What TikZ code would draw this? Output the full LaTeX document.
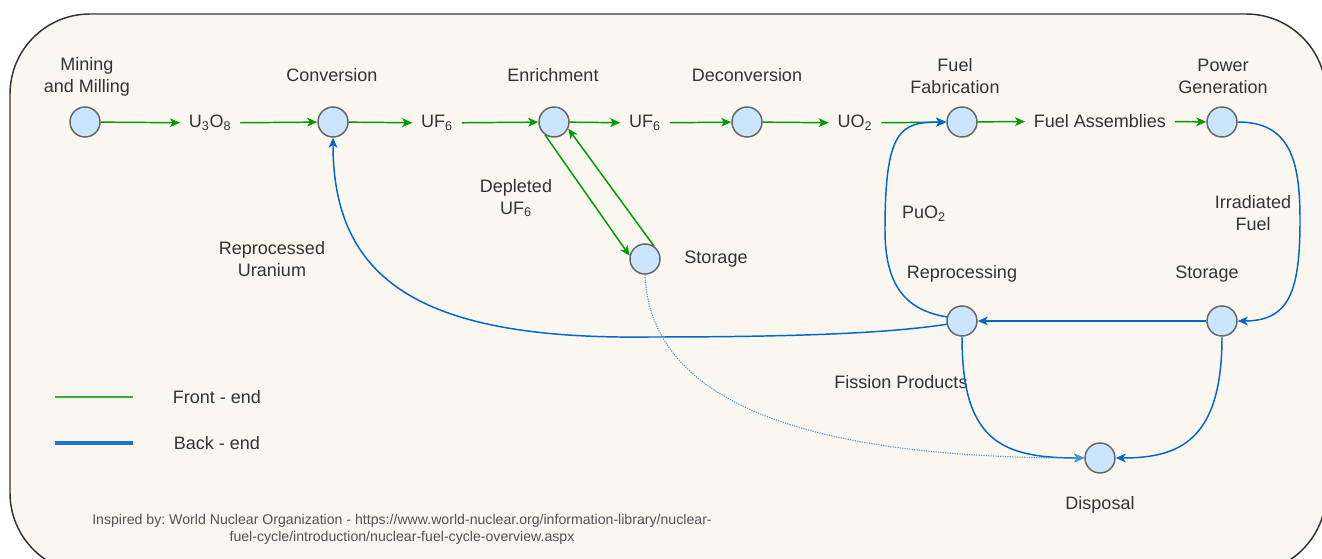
\documentclass[tikz,border=0pt]{standalone}
\usepackage{fontspec}
\setmainfont{Liberation Sans}
\usetikzlibrary{arrows.meta}
\frenchspacing

\definecolor{panelbg}{HTML}{F9F7EF}
\definecolor{panelline}{HTML}{333333}
\definecolor{nodefill}{HTML}{CCE5FF}
\definecolor{nodeline}{HTML}{666666}
\definecolor{frontc}{HTML}{009900}
\definecolor{backc}{HTML}{0066CC}
\definecolor{dotc}{HTML}{4D94DB}
\definecolor{txt}{HTML}{333333}
\definecolor{legfront}{HTML}{33B033}
\definecolor{legback}{HTML}{1A75D1}

\begin{document}
\begin{tikzpicture}[x=0.75pt, y=-0.75pt,
  every node/.style={text=txt, font=\fontsize{13.5}{16.5}\selectfont},
  stage/.style={circle, draw=nodeline, fill=nodefill, line width=1.1pt,
    minimum size=22.5pt, inner sep=0pt},
  lbl/.style={align=center, inner sep=0pt},
  prod/.style={inner xsep=6.5pt, inner ysep=2pt},
  tip/.style={-{Stealth[length=7.5pt, width=6.5pt, inset=2pt]}},
  front/.style={tip, draw=frontc, line width=1.1pt},
  back/.style={tip, draw=backc, line width=1.1pt},
  waste/.style={tip, draw=dotc, line width=0.8pt, dash pattern=on 0.9pt off 0.9pt}
]
\useasboundingbox (0,0) rectangle (1322,559);

% panel
\draw[fill=panelbg, draw=panelline, line width=1.1pt, rounded corners=60pt]
  (10,14) rectangle (1326,573);

% process stages
\node[stage] (mill)   at (85,122)   {};
\node[stage] (conv)   at (333,122)  {};
\node[stage] (enr)    at (554,122)  {};
\node[stage] (decon)  at (747,122)  {};
\node[stage] (fab)    at (962,122)  {};
\node[stage] (power)  at (1222,122) {};
\node[stage] (sto)    at (645,259)  {};
\node[stage] (repro)  at (962,321)  {};
\node[stage] (stor)   at (1222,321) {};
\node[stage] (disp)   at (1100,458) {};

% stage names
\node[lbl] (tmill)  at (87,77)    {Mining\\and Milling};
\node[lbl] (tconv)  at (332,75)   {Conversion};
\node[lbl] (tenr)   at (553,75)   {Enrichment};
\node[lbl] (tdecon) at (747,75)   {Deconversion};
\node[lbl] (tfab)   at (955,76)   {Fuel\\Fabrication};
\node[lbl] (tpower) at (1223,76)  {Power\\Generation};
\node[lbl] (tsto)   at (716,259)  {Storage};
\node[lbl] (trepro) at (962,274)  {Reprocessing};
\node[lbl] (tstor)  at (1207,274) {Storage};
\node[lbl] (tdisp)  at (1100,505) {Disposal};

% intermediate products
\node[prod] (u3o8)   at (210,123)  {U\textsubscript{3}O\textsubscript{8}};
\node[prod] (uf6a)   at (437,123)  {UF\textsubscript{6}};
\node[prod] (uf6b)   at (645,123)  {UF\textsubscript{6}};
\node[prod] (uo2)    at (855,123)  {UO\textsubscript{2}};
\node[prod] (fuelas) at (1100,121) {Fuel Assemblies};

% flow labels
\node[lbl] (tdepl)  at (516,198)  {Depleted\\UF\textsubscript{6}};
\node[lbl] (truran) at (272,259)  {Reprocessed\\Uranium};
\node[lbl] (tpuo2)  at (924,214)  {PuO\textsubscript{2}};
\node[lbl] (tirr)   at (1253,213) {Irradiated\\Fuel};
\node[lbl] (tfiss)  at (901,382)  {Fission Products};

% front end
\draw[front] (mill) -- (u3o8);
\draw[front] (u3o8) -- (conv);
\draw[front] (conv) -- (uf6a);
\draw[front] (uf6a) -- (enr);
\draw[front] (enr) -- (uf6b);
\draw[front] (uf6b) -- (decon);
\draw[front] (decon) -- (uo2);
\draw[front] (uo2) -- (fab);
\draw[front] (fab) -- (fuelas);
\draw[front] (fuelas) -- (power);
\draw[front] (enr.-125) -- (sto.168);
\draw[front] (sto.55) -- (enr.-25);

% back end
\draw[back] (power.east) .. controls (1290,122) and (1300,160) .. (1300,220)
  .. controls (1300,290) and (1290,321) .. (stor.east);
\draw[back] (stor) -- (repro);
\draw[back] (repro.165) .. controls (905,310) and (885,285) .. (885,230)
  .. controls (885,130) and (900,122) .. (fab.west);
\draw[back] (repro.192) .. controls (890,333) and (800,337) .. (650,337)
  .. controls (420,340) and (333,280) .. (conv.south);
\draw[back] (repro.south) .. controls (962,440) and (1000,458) .. (disp.west);
\draw[back] (stor.south) .. controls (1222,440) and (1180,458) .. (disp.east);
\draw[waste] (sto.south) .. controls (650,400) and (800,458) .. (disp.west);

% legend
\draw[draw=legfront, line width=1.6pt] (55,397) -- (133,397);
\draw[draw=legback, line width=2.3pt] (55,443) -- (133,443);
\node[lbl] (lfront) at (217,397) {Front - end};
\node[lbl] (lback)  at (217,443) {Back - end};

% source note
\node[lbl, text=txt!85!white, font=\fontsize{10.6}{12.75}\selectfont] (src) at (402,529)
  {Inspired by: World Nuclear Organization - https://www.world-nuclear.org/information-library/nuclear-\\
   fuel-cycle/introduction/nuclear-fuel-cycle-overview.aspx};
\end{tikzpicture}
\end{document}
